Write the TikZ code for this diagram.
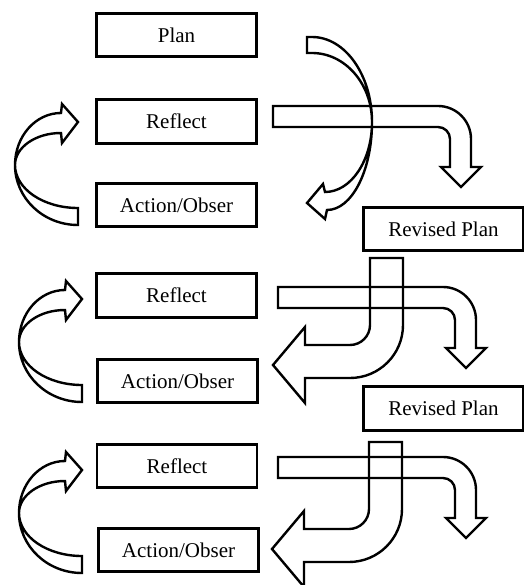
\documentclass[tikz,border=0pt]{standalone}
\usepackage{fontspec}
\setmainfont{Liberation Serif}

\tikzset{
  stagebox/.style={draw, line width=2.6pt, minimum width=160pt, minimum height=43.5pt,
    inner sep=0pt, font=\fontsize{21}{25}\selectfont},
  blockarrow/.style={draw, line width=2.4pt},
  % curved arrow going round the left side, back up to a Reflect box
  pics/loopback/.style={code={
    \draw[blockarrow] (0,0) -- (-16,-18) -- (-17,-9)
      arc[start angle=-90, end angle=-180, x radius=46, y radius=52]
      arc[start angle=180, end angle=90, x radius=63, y radius=60] -- (0,86)
      arc[start angle=90, end angle=180, x radius=63, y radius=43]
      arc[start angle=180, end angle=270, x radius=46, y radius=32] -- (-16,21) -- cycle;
  }},
  % bent arrow from a Reflect box down to the next Revised Plan
  pics/bentdown/.style={code={
    \draw[blockarrow] (0,0) -- (165,0) arc[start angle=-90, end angle=0, radius=33]
      -- (198,61) -- (208,61) -- (188,81) -- (168,61) -- (177,61) -- (177,33)
      arc[start angle=0, end angle=-90, radius=12] -- (0,21) -- cycle;
  }},
  % bent arrow from a Revised Plan down and left to Action/Obser
  pics/swoopleft/.style={code={
    \draw[blockarrow] (0,0) -- (33,0) -- (33,67) arc[start angle=0, end angle=90, radius=53]
      -- (-65,120) -- (-65,145) -- (-97,107) -- (-65,69) -- (-65,87) -- (-20,87)
      arc[start angle=90, end angle=0, radius=20] -- cycle;
  }},
}

\begin{document}
\begin{tikzpicture}[x=1pt, y=-1pt]

    \useasboundingbox (0,0) rectangle (523,585);

    % First cycle
    \node[stagebox] (plan) at (176.5,35) {Plan};
    \node[stagebox] (reflectA) at (176.5,121.5) {Reflect};
    \node[stagebox] (actionA) at (176.5,205) {Action/Obser};

    % Second cycle
    \node[stagebox] (revisedA) at (443.5,229) {Revised Plan};
    \node[stagebox] (reflectB) at (176.5,295.5) {Reflect};
    \node[stagebox] (actionB) at (177.5,381) {Action/Obser};

    % Third cycle
    \node[stagebox] (revisedB) at (443.5,408.5) {Revised Plan};
    \node[stagebox] (reflectC) at (177,466) {Reflect};
    \node[stagebox] (actionC) at (178.5,550) {Action/Obser};

    % Curved arrow from Plan round to the first Action/Obser
    \draw[blockarrow] (307,37) -- (312,37)
      arc[start angle=-90, end angle=0, x radius=60, y radius=85]
      arc[start angle=0, end angle=90, x radius=45, y radius=88]
      -- (325,219) -- (307,203) -- (323,184) -- (325,192)
      arc[start angle=90, end angle=0, x radius=47, y radius=70]
      arc[start angle=0, end angle=-90, x radius=60, y radius=69] -- (307,53) -- cycle;

    % Arrows back from Action/Obser to Reflect
    \pic at (78,122) {loopback};
    \pic at (82,299) {loopback};
    \pic at (82,470) {loopback};

    % Arrows from Reflect down to Revised Plan
    \pic at (273,106) {bentdown};
    \pic at (278,287) {bentdown};
    \pic at (278,457) {bentdown};

    % Arrows from Revised Plan to Action/Obser
    \pic at (370,258) {swoopleft};
    \pic at (369,442) {swoopleft};

\end{tikzpicture}
\end{document}
